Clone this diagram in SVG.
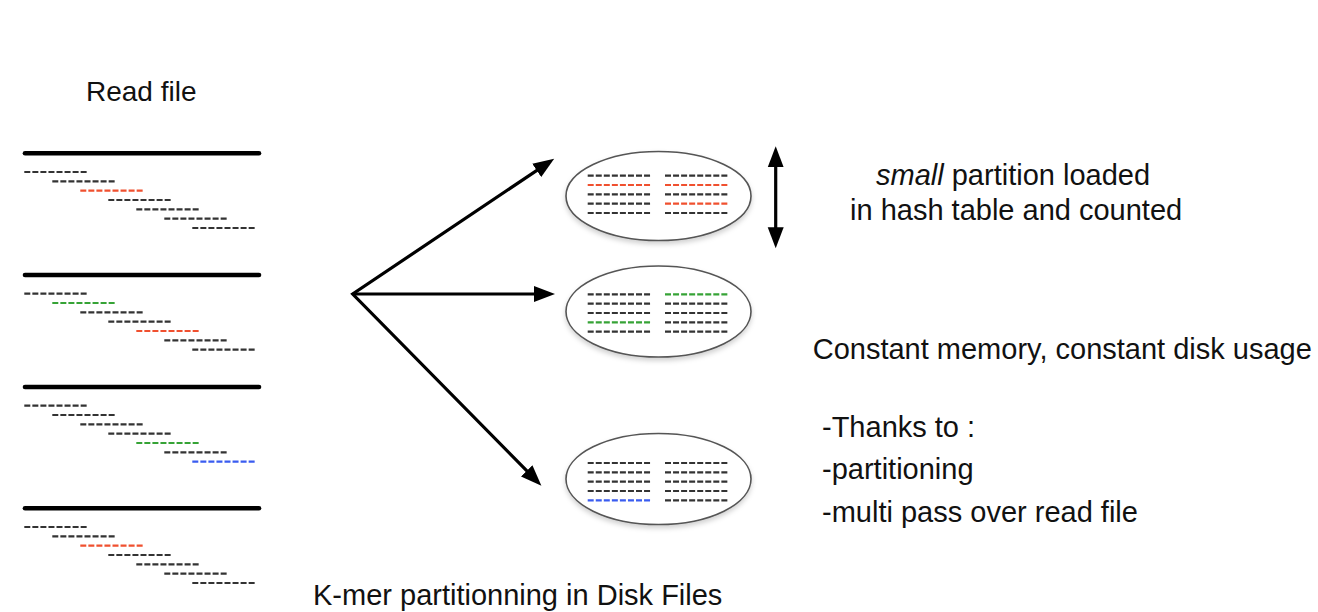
<svg xmlns="http://www.w3.org/2000/svg" width="1318" height="612" viewBox="0 0 1318 612">
<style>
text{font-family:"Liberation Sans",Arial,Helvetica,sans-serif;fill:#111;font-size:29px}
.bar{stroke:#000;stroke-width:4.6;stroke-linecap:round}
.d{stroke:#333;stroke-width:2.2;stroke-dasharray:6 2.05;fill:none}
.r{stroke:#f0502f}
.g{stroke:#36a336}
.b{stroke:#3a5cf0}
.ell{fill:#fff;stroke:#555;stroke-width:1.6}
.arr{stroke:#000;stroke-width:3.2;fill:none}
</style>
<defs>
<marker id="ah" markerUnits="userSpaceOnUse" markerWidth="22" markerHeight="17" refX="2" refY="8" orient="auto-start-reverse" viewBox="0 0 22 16">
<path d="M0,0 L21,8 L0,16 z" fill="#000"/>
</marker>
<filter id="sh" x="-10%" y="-20%" width="120%" height="150%">
<feDropShadow dx="0" dy="3" stdDeviation="2.5" flood-color="#000" flood-opacity="0.18"/>
</filter>
</defs>
<rect width="1318" height="612" fill="#fff"/>

<g id="read-file">
<text x="86" y="101" style="font-size:28px">Read file</text>
<g id="reads-1">
<line class="bar" x1="25" y1="153.3" x2="259" y2="153.3"/>
<line class="d" x1="24.3" y1="172" x2="88.3" y2="172"/>
<line class="d" x1="52.3" y1="181.3" x2="116.3" y2="181.3"/>
<line class="d r" x1="80.3" y1="190.7" x2="144.3" y2="190.7"/>
<line class="d" x1="108.3" y1="200" x2="172.3" y2="200"/>
<line class="d" x1="136.3" y1="209.3" x2="200.3" y2="209.3"/>
<line class="d" x1="164.3" y1="218.7" x2="228.3" y2="218.7"/>
<line class="d" x1="192.3" y1="228" x2="256.3" y2="228"/>
</g>
<g id="reads-2">
<line class="bar" x1="25" y1="275" x2="259" y2="275"/>
<line class="d" x1="24.3" y1="293.7" x2="88.3" y2="293.7"/>
<line class="d g" x1="52.3" y1="303" x2="116.3" y2="303"/>
<line class="d" x1="80.3" y1="312.3" x2="144.3" y2="312.3"/>
<line class="d" x1="108.3" y1="321.7" x2="172.3" y2="321.7"/>
<line class="d r" x1="136.3" y1="331" x2="200.3" y2="331"/>
<line class="d" x1="164.3" y1="340.3" x2="228.3" y2="340.3"/>
<line class="d" x1="192.3" y1="349.7" x2="256.3" y2="349.7"/>
</g>
<g id="reads-3">
<line class="bar" x1="25" y1="387" x2="259" y2="387"/>
<line class="d" x1="24.3" y1="405.7" x2="88.3" y2="405.7"/>
<line class="d" x1="52.3" y1="415" x2="116.3" y2="415"/>
<line class="d" x1="80.3" y1="424.3" x2="144.3" y2="424.3"/>
<line class="d" x1="108.3" y1="433.7" x2="172.3" y2="433.7"/>
<line class="d g" x1="136.3" y1="443" x2="200.3" y2="443"/>
<line class="d" x1="164.3" y1="452.3" x2="228.3" y2="452.3"/>
<line class="d b" x1="192.3" y1="461.7" x2="256.3" y2="461.7"/>
</g>
<g id="reads-4">
<line class="bar" x1="25" y1="508.3" x2="259" y2="508.3"/>
<line class="d" x1="24.3" y1="527" x2="88.3" y2="527"/>
<line class="d" x1="52.3" y1="536.3" x2="116.3" y2="536.3"/>
<line class="d r" x1="80.3" y1="545.7" x2="144.3" y2="545.7"/>
<line class="d" x1="108.3" y1="555" x2="172.3" y2="555"/>
<line class="d" x1="136.3" y1="564.3" x2="200.3" y2="564.3"/>
<line class="d" x1="164.3" y1="573.7" x2="228.3" y2="573.7"/>
<line class="d" x1="192.3" y1="583" x2="256.3" y2="583"/>
</g>
</g>

<g id="connectors">
<path class="arr" d="M538.4,169.3 L352.7,294 L528.1,472.2" stroke-linejoin="miter" stroke-miterlimit="10" marker-start="url(#ah)" marker-end="url(#ah)"/>
<line class="arr" x1="352.7" y1="294" x2="536" y2="294" marker-end="url(#ah)"/>
<line class="arr" x1="775.7" y1="165.3" x2="775.7" y2="229.3" marker-start="url(#ah)" marker-end="url(#ah)"/>
</g>

<g id="partition-1">
<ellipse class="ell" cx="658.5" cy="196" rx="92.5" ry="44.5" filter="url(#sh)"/>
<line class="d" x1="587.7" y1="175.7" x2="651.7" y2="175.7"/>
<line class="d r" x1="587.7" y1="185" x2="651.7" y2="185"/>
<line class="d" x1="587.7" y1="194.3" x2="651.7" y2="194.3"/>
<line class="d" x1="587.7" y1="203.7" x2="651.7" y2="203.7"/>
<line class="d" x1="587.7" y1="213" x2="651.7" y2="213"/>
<line class="d" x1="665" y1="175.7" x2="729" y2="175.7"/>
<line class="d r" x1="665" y1="185" x2="729" y2="185"/>
<line class="d" x1="665" y1="194.3" x2="729" y2="194.3"/>
<line class="d r" x1="665" y1="203.7" x2="729" y2="203.7"/>
<line class="d" x1="665" y1="213" x2="729" y2="213"/>
</g>

<g id="partition-2">
<ellipse class="ell" cx="658.5" cy="311.5" rx="92.5" ry="45.5" filter="url(#sh)"/>
<line class="d" x1="587.7" y1="294.3" x2="651.7" y2="294.3"/>
<line class="d" x1="587.7" y1="303.7" x2="651.7" y2="303.7"/>
<line class="d" x1="587.7" y1="313" x2="651.7" y2="313"/>
<line class="d g" x1="587.7" y1="322.3" x2="651.7" y2="322.3"/>
<line class="d" x1="587.7" y1="331.7" x2="651.7" y2="331.7"/>
<line class="d g" x1="665" y1="294.3" x2="729" y2="294.3"/>
<line class="d" x1="665" y1="303.7" x2="729" y2="303.7"/>
<line class="d" x1="665" y1="313" x2="729" y2="313"/>
<line class="d" x1="665" y1="322.3" x2="729" y2="322.3"/>
<line class="d" x1="665" y1="331.7" x2="729" y2="331.7"/>
</g>

<g id="partition-3">
<ellipse class="ell" cx="658.5" cy="479" rx="92.5" ry="45.5" filter="url(#sh)"/>
<line class="d" x1="587.7" y1="463" x2="651.7" y2="463"/>
<line class="d" x1="587.7" y1="472.3" x2="651.7" y2="472.3"/>
<line class="d" x1="587.7" y1="481.7" x2="651.7" y2="481.7"/>
<line class="d" x1="587.7" y1="491" x2="651.7" y2="491"/>
<line class="d b" x1="587.7" y1="500.3" x2="651.7" y2="500.3"/>
<line class="d" x1="665" y1="463" x2="729" y2="463"/>
<line class="d" x1="665" y1="472.3" x2="729" y2="472.3"/>
<line class="d" x1="665" y1="481.7" x2="729" y2="481.7"/>
<line class="d" x1="665" y1="491" x2="729" y2="491"/>
<line class="d" x1="665" y1="500.3" x2="729" y2="500.3"/>
</g>

<g id="labels">
<text x="876" y="184.5"><tspan font-style="italic">small</tspan> partition loaded</text>
<text x="850" y="220">in hash table and counted</text>
<text x="812.7" y="359">Constant memory, constant disk usage</text>
<text x="822" y="437">-Thanks to :</text>
<text x="822" y="479">-partitioning</text>
<text x="822" y="521.5">-multi pass over read file</text>
<text x="313" y="605">K-mer partitionning in Disk Files</text>
</g>
</svg>
